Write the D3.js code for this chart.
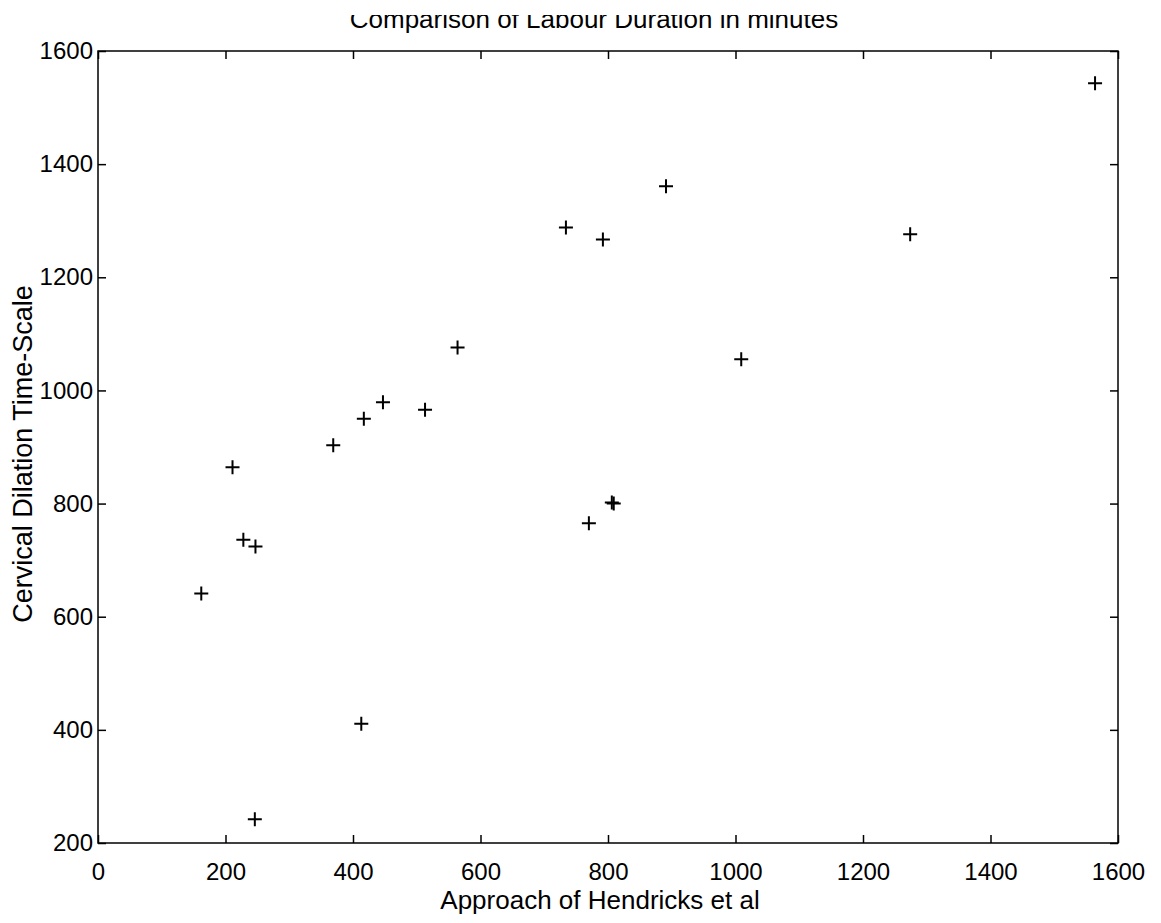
<!DOCTYPE html>
<html>
<head>
<meta charset="utf-8">
<script src="https://cdn.jsdelivr.net/npm/d3@7"></script>
<style>
  body { margin: 0; background: #fff; }
  svg text { font-family: "Liberation Sans", Arial, sans-serif; fill: #000; }
</style>
</head>
<body>
<svg id="chart" width="1161" height="923"></svg>
<script>
// data
const hendricks = [1564, 891, 734, 792, 1274, 564, 1009, 211, 369, 417, 447, 513, 228, 247, 162, 413, 246, 770, 806, 809];
const dilation = [1543, 1361, 1288, 1267, 1276, 1076, 1055, 864, 903, 950, 979, 966, 736, 724, 641, 411, 242, 765, 802, 800];
const xTicks = [0, 200, 400, 600, 800, 1000, 1200, 1400, 1600];
const yTicks = [200, 400, 600, 800, 1000, 1200, 1400, 1600];

const margin = { left: 98, top: 51, right: 43, bottom: 80 };
const width = 1161 - margin.left - margin.right;
const height = 923 - margin.top - margin.bottom;

const svg = d3.select("#chart");
const g = svg.append("g").attr("transform", `translate(${margin.left},${margin.top})`);

const x = d3.scaleLinear().domain([0, 1600]).range([0, width]);
const y = d3.scaleLinear().domain([200, 1600]).range([height, 0]);

// axes, ticks inward on all four sides (matlab style)
const tickLen = 8;
const fmt = d3.format("d");
const styleAxis = sel => {
    sel.select(".domain").remove();
    sel.selectAll(".tick line").attr("stroke", "#000").attr("stroke-width", 1.5);
    sel.selectAll(".tick text").attr("font-size", 24);
};

g.append("g")
    .attr("transform", `translate(0,${height})`)
    .call(d3.axisBottom(x).tickValues(xTicks).tickSize(-tickLen).tickPadding(20).tickFormat(fmt))
    .call(styleAxis);
g.append("g")
    .call(d3.axisTop(x).tickValues(xTicks).tickSize(-tickLen).tickFormat(""))
    .call(styleAxis);
g.append("g")
    .call(d3.axisLeft(y).tickValues(yTicks).tickSize(-tickLen).tickPadding(5).tickFormat(fmt))
    .call(styleAxis);
g.append("g")
    .attr("transform", `translate(${width},0)`)
    .call(d3.axisRight(y).tickValues(yTicks).tickSize(-tickLen).tickFormat(""))
    .call(styleAxis);

g.append("rect")
    .attr("width", width)
    .attr("height", height)
    .attr("fill", "none")
    .attr("stroke", "#000")
    .attr("stroke-width", 1.5);

// plus markers
const pts = hendricks.map((v, i) => [v, dilation[i]]);
g.selectAll(".pt")
    .data(pts)
    .enter()
    .append("path")
    .attr("class", "pt")
    .attr("transform", d => `translate(${x(d[0])},${y(d[1])})`)
    .attr("d", "M-7,0H7M0,-7V7")
    .attr("stroke", "#000")
    .attr("stroke-width", 2)
    .attr("fill", "none");

// labels
svg.append("text")
    .attr("x", 600)
    .attr("y", 909)
    .attr("text-anchor", "middle")
    .attr("font-size", 26)
    .text("Approach of Hendricks et al");

svg.append("text")
    .attr("transform", "translate(32,454) rotate(-90)")
    .attr("text-anchor", "middle")
    .attr("font-size", 27)
    .text("Cervical Dilation Time-Scale");

// title, top is cut off on the scan
svg.append("clipPath").attr("id", "cut")
    .append("rect").attr("x", 0).attr("y", 15).attr("width", 1161).attr("height", 40);
svg.append("text")
    .attr("clip-path", "url(#cut)")
    .attr("x", 594)
    .attr("y", 28)
    .attr("text-anchor", "middle")
    .attr("font-size", 26)
    .text("Comparison of Labour Duration in minutes");
</script>
</body>
</html>
